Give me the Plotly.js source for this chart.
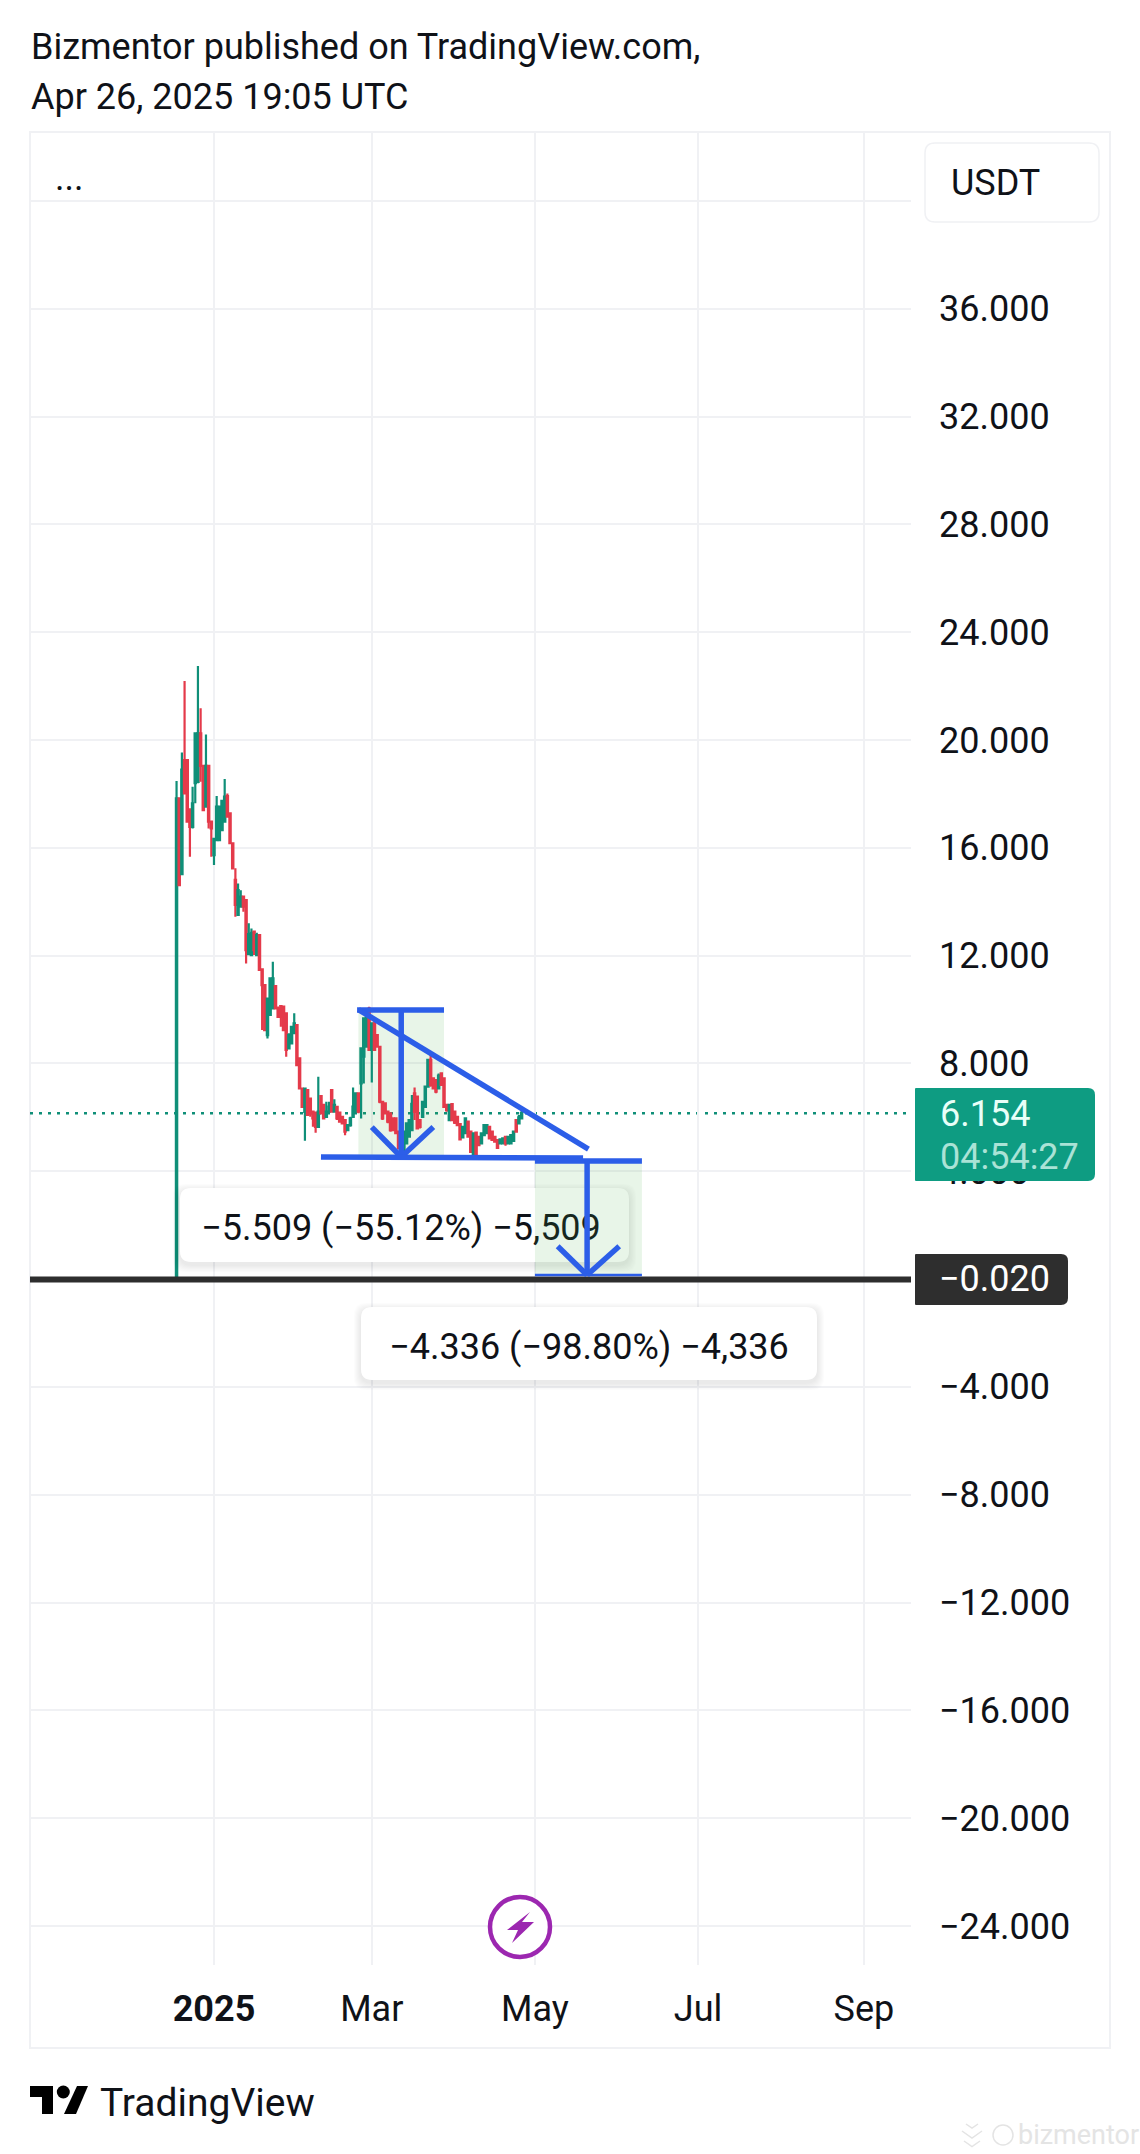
<!DOCTYPE html>
<html><head><meta charset="utf-8">
<script src="https://cdn.plot.ly/plotly-3.0.1.min.js"></script>
<style>html,body{margin:0;padding:0;background:#fff}#c{width:1140px;height:2154px}</style>
</head><body><div id="c"></div>
<script>
const dates = [
"2024-12-18","2024-12-19","2024-12-20","2024-12-21","2024-12-22","2024-12-23","2024-12-24","2024-12-25","2024-12-26","2024-12-27",
"2024-12-28","2024-12-29","2024-12-30","2024-12-31","2025-01-01","2025-01-02","2025-01-03","2025-01-04","2025-01-05","2025-01-06",
"2025-01-07","2025-01-08","2025-01-09","2025-01-10","2025-01-11","2025-01-12","2025-01-13","2025-01-14","2025-01-15","2025-01-16",
"2025-01-17","2025-01-18","2025-01-19","2025-01-20","2025-01-21","2025-01-22","2025-01-23","2025-01-24","2025-01-25","2025-01-26",
"2025-01-27","2025-01-28","2025-01-29","2025-01-30","2025-01-31","2025-02-01","2025-02-02","2025-02-03","2025-02-04","2025-02-05",
"2025-02-06","2025-02-07","2025-02-08","2025-02-09","2025-02-10","2025-02-11","2025-02-12","2025-02-13","2025-02-14","2025-02-15",
"2025-02-16","2025-02-17","2025-02-18","2025-02-19","2025-02-20","2025-02-21","2025-02-22","2025-02-23","2025-02-24","2025-02-25",
"2025-02-26","2025-02-27","2025-02-28","2025-03-01","2025-03-02","2025-03-03","2025-03-04","2025-03-05","2025-03-06","2025-03-07",
"2025-03-08","2025-03-09","2025-03-10","2025-03-11","2025-03-12","2025-03-13","2025-03-14","2025-03-15","2025-03-16","2025-03-17",
"2025-03-18","2025-03-19","2025-03-20","2025-03-21","2025-03-22","2025-03-23","2025-03-24","2025-03-25","2025-03-26","2025-03-27",
"2025-03-28","2025-03-29","2025-03-30","2025-03-31","2025-04-01","2025-04-02","2025-04-03","2025-04-04","2025-04-05","2025-04-06",
"2025-04-07","2025-04-08","2025-04-09","2025-04-10","2025-04-11","2025-04-12","2025-04-13","2025-04-14","2025-04-15","2025-04-16",
"2025-04-17","2025-04-18","2025-04-19","2025-04-20","2025-04-21","2025-04-22","2025-04-23","2025-04-24","2025-04-25","2025-04-26"];
const open = [
0.00,17.84,15.02,19.26,19.26,17.43,16.78,18.40,18.45,20.25,
19.04,17.53,19.04,16.97,15.73,16.29,16.29,16.66,16.97,17.92,
17.28,16.17,14.81,13.51,13.82,14.19,14.06,12.06,12.02,12.89,
12.02,12.76,11.49,10.91,9.05,9.80,10.04,10.87,10.04,10.13,
10.11,9.86,8.56,8.74,9.12,9.42,8.19,7.07,6.20,7.01,
6.70,6.21,6.18,5.65,6.79,6.46,6.02,6.21,7.01,6.21,
6.39,6.18,6.02,5.90,5.53,5.71,6.02,6.21,6.89,7.26,
8.25,8.62,10.04,8.50,9.49,9.05,8.62,6.58,6.52,6.21,
6.15,5.96,5.96,5.47,4.54,4.79,5.03,5.28,5.53,6.89,
6.77,5.90,6.02,6.39,7.14,8.13,7.45,7.38,7.07,7.63,
7.45,6.46,5.90,6.49,6.21,6.02,5.75,5.26,5.41,5.84,
5.47,4.60,5.43,5.28,5.03,5.34,5.41,5.65,5.47,5.28,
5.16,5.03,5.03,5.28,5.03,5.03,5.13,5.90,5.78,5.96];
const high = [
18.48,17.84,19.54,22.19,19.26,17.43,18.27,20.25,22.75,21.18,
19.04,20.21,19.04,16.97,16.33,17.92,17.53,17.74,18.55,18.02,
17.28,16.17,15.24,14.68,14.43,14.19,14.06,13.20,13.01,12.89,
12.85,12.76,11.49,10.91,10.41,11.16,11.77,10.87,10.11,10.13,
10.11,9.86,9.12,9.36,9.86,9.42,8.19,7.07,7.07,7.01,
6.70,6.21,6.18,7.51,6.79,6.46,6.58,6.58,7.01,6.67,
6.39,6.18,6.02,5.90,5.71,6.02,7.11,6.89,6.89,8.56,
9.67,9.99,10.10,9.49,9.60,9.05,8.62,6.58,6.52,6.21,
6.15,5.96,5.96,5.47,5.16,5.47,5.78,5.90,6.83,7.11,
6.77,5.90,6.58,7.14,8.13,8.44,7.45,7.38,7.63,7.63,
7.45,6.46,6.46,6.49,6.21,6.02,5.75,5.65,5.96,5.84,
5.47,5.41,5.43,5.28,5.41,5.71,5.71,5.65,5.47,5.28,
5.16,5.18,5.22,5.28,5.28,5.34,5.47,5.90,6.09,6.33];
const low = [
0.00,14.58,15.02,18.02,16.97,15.67,16.72,17.65,18.40,18.45,
17.40,17.53,16.72,15.67,15.36,16.29,16.29,16.66,16.97,17.16,
16.17,15.24,13.44,13.51,13.82,13.63,11.71,12.06,12.02,12.02,
12.02,11.47,9.24,9.24,8.93,9.80,10.04,10.04,9.73,9.36,
9.24,8.25,8.56,8.74,9.12,7.94,7.07,6.39,5.13,6.09,
6.02,5.65,5.43,5.65,6.15,5.96,6.02,6.21,6.21,6.21,
5.90,5.84,5.78,5.34,5.53,5.65,6.02,6.15,6.15,5.96,
7.26,8.62,8.50,7.29,8.50,8.62,6.52,5.90,6.15,5.78,
5.47,5.53,5.41,4.85,4.54,4.79,5.03,5.28,5.53,5.90,
5.59,5.59,6.02,6.39,7.14,7.14,7.07,6.89,7.07,7.20,
6.39,6.21,5.90,5.90,5.75,5.71,5.18,5.26,5.41,5.28,
4.72,4.60,4.60,4.97,5.03,5.34,5.41,5.22,5.16,5.10,
4.87,5.03,5.03,4.95,5.03,5.03,5.13,5.43,5.78,5.96];
const close = [
17.84,14.62,18.90,18.02,16.97,16.78,17.65,20.25,20.25,19.04,
17.40,19.04,16.97,16.72,16.33,17.53,17.53,17.74,17.90,17.16,
16.17,15.24,13.88,14.43,14.19,13.82,12.20,12.80,12.85,12.20,
12.76,11.47,10.91,9.24,10.41,11.16,11.16,10.04,9.73,9.73,
9.24,8.50,9.05,9.36,9.49,7.94,7.07,6.39,7.07,6.09,
6.15,5.96,5.65,6.21,6.15,5.96,6.21,6.40,6.21,6.46,
5.96,5.84,5.78,5.47,5.71,5.96,6.40,6.89,6.21,8.56,
9.67,9.90,8.50,9.49,8.50,8.62,6.58,5.96,6.15,5.84,
5.53,5.53,5.41,4.85,5.16,5.47,5.78,5.90,6.50,6.20,
5.59,5.65,6.58,7.14,8.13,7.20,7.07,6.95,7.55,7.20,
6.39,6.27,6.46,5.90,5.80,5.71,5.18,5.65,5.96,5.28,
4.72,5.41,4.60,4.97,5.41,5.71,5.71,5.22,5.16,5.10,
4.87,5.18,5.22,5.03,5.28,5.34,5.47,5.47,6.00,6.154];

const yTickVals = [40,36,32,28,24,20,16,12,8,4,0,-4,-8,-12,-16,-20,-24];
const yTickText = ["","36.000","32.000","28.000","24.000","20.000","16.000","12.000","8.000","4.000","","−4.000","−8.000","−12.000","−16.000","−20.000","−24.000"];
const xTickVals = ["2025-01-01","2025-03-01","2025-05-01","2025-07-01","2025-09-01"];
const xTickText = ["<b>2025</b>","Mar","May","Jul","Sep"];
const lastPrice = 6.154, crossPrice = -0.02;

// Drawings, in chart units: [date0, value0, date1, value1]
const zone1 = ["2025-02-24",9.98,"2025-03-28",4.53];
const zone2 = ["2025-05-01",4.38,"2025-06-10",0.15];
const heavyLines = [
 ["2025-02-23 12:00",9.98,"2025-03-28",9.98],
 ["2025-03-12",9.98,"2025-03-12",4.53],
 ["2025-03-01",5.64,"2025-03-12",4.53],
 ["2025-03-24",5.64,"2025-03-12",4.53],
 ["2025-02-24",10.0,"2025-05-21",4.82],
 ["2025-02-10",4.53,"2025-05-19",4.49],
 ["2025-05-01",4.38,"2025-06-10",4.38],
 ["2025-05-20 12:00",4.38,"2025-05-20 12:00",0.15],
 ["2025-05-09 12:00",1.22,"2025-05-20 12:00",0.15],
 ["2025-06-01 12:00",1.22,"2025-05-20 12:00",0.15]
];
const thinLines = [["2025-05-01",0.15,"2025-06-10",0.15]];

const L=30,T=132,W=881,H=1833;
const fx=p=>(p-L)/W, fy=p=>(T+H-p)/H;
const poly=pts=>'M '+pts.map(p=>fx(p[0])+' '+fy(p[1])).join(' L ')+' Z';
function rr(x0,y0,x1,y1,rl,rr_){ // rounded box, page pixels -> paper fractions
  const a=(x,y)=>fx(x)+' '+fy(y);
  const rr2=rr_===undefined?rl:rr_;
  return 'M '+a(x0+rl,y0)+' L '+a(x1-rr2,y0)+' Q '+a(x1,y0)+' '+a(x1,y0+rr2)+' L '+a(x1,y1-rr2)+' Q '+a(x1,y1)+' '+a(x1-rr2,y1)+' L '+a(x0+rl,y1)+' Q '+a(x0,y1)+' '+a(x0,y1-rl)+' L '+a(x0,y0+rl)+' Q '+a(x0,y0)+' '+a(x0+rl,y0)+' Z';
}
const pshape=(path,fill,line,extra)=>Object.assign({type:'path',xref:'paper',yref:'paper',path,fillcolor:fill,line:line||{width:0},layer:'above'},extra||{});
const GRID='#f0f1f4', BLUE='#2c5ee8', UP='#0f8f78', DOWN='#e43a4a', FONT='Roboto, sans-serif', INK='#0f1218';

function shadowBox(x0,y0,x1,y1,text,textShift){
  const out=[];
  for(const s of [7,6,5,4,3,2,1]) out.push(pshape(rr(x0-s,y0-s+3,x1+s,y1+s+3,12),'rgba(0,0,0,0.012)'));
  out.push(pshape(rr(x0,y0,x1,y1,11),'#ffffff'));
  // text sits on its own transparent box so it can be centred slightly off the white panel
  out.push(pshape(rr(x0+textShift,y0,x1+textShift,y1,11),'rgba(255,255,255,0)',{width:0},{label:{text,font:{family:FONT,size:36,color:INK},textposition:'middle center'}}));
  return out;
}

const shapes=[];
// frame
shapes.push({type:'rect',xref:'paper',yref:'paper',x0:fx(30),x1:fx(1110),y0:fy(132),y1:fy(2048),line:{color:GRID,width:2},fillcolor:'rgba(0,0,0,0)',layer:'below'});
// first zone behind the candles
shapes.push({type:'rect',xref:'x',yref:'y',x0:zone1[0],y0:zone1[1],x1:zone1[2],y1:zone1[3],fillcolor:'rgba(76,175,80,0.13)',line:{width:0},layer:'between'});
// level lines
shapes.push({type:'line',xref:'paper',yref:'y',x0:0,x1:1,y0:lastPrice,y1:lastPrice,line:{color:UP,width:2.5,dash:'3px,6px'},layer:'between'});
shapes.push(...shadowBox(180,1188,629,1262,'−5.509 (−55.12%) −5,509',-3.5));
shapes.push(...shadowBox(361,1307,817,1380,'−4.336 (−98.80%) −4,336',0));
shapes.push({type:'rect',xref:'x',yref:'y',x0:zone2[0],y0:zone2[1],x1:zone2[2],y1:zone2[3],fillcolor:'rgba(76,175,80,0.13)',line:{width:0},layer:'above'});
shapes.push({type:'line',xref:'paper',yref:'y',x0:0,x1:1,y0:crossPrice,y1:crossPrice,line:{color:'#2e2e2e',width:6},layer:'above'});
for(const d of heavyLines) shapes.push({type:'line',xref:'x',yref:'y',x0:d[0],y0:d[1],x1:d[2],y1:d[3],line:{color:BLUE,width:5.5},layer:'above'});
for(const d of thinLines) shapes.push({type:'line',xref:'x',yref:'y',x0:d[0],y0:d[1],x1:d[2],y1:d[3],line:{color:BLUE,width:2.5},layer:'above'});
// scale tags
shapes.push(pshape(rr(925,143,1099,222,10),'#ffffff',{color:GRID,width:1.5}));
shapes.push(pshape(rr(915,1088,1095,1181,1,7),'#0e9c82'));
shapes.push(pshape(rr(915,1254,1068,1305,1,7),'#2e2e2e'));
// lightning badge
shapes.push({type:'circle',xref:'paper',yref:'paper',x0:fx(490),x1:fx(550),y0:fy(1897),y1:fy(1957),fillcolor:'#ffffff',line:{color:'#9c27b0',width:4.5},layer:'above'});
shapes.push(pshape(poly([[530,1912],[507,1930],[518,1930],[512,1943],[534,1922],[522,1922]]),'#9c27b0'));
// TradingView mark
shapes.push(pshape(poly([[30,2086],[53,2086],[53,2114],[42,2114],[42,2097],[30,2097]]),'#000000'));
shapes.push({type:'circle',xref:'paper',yref:'paper',x0:fx(56.8),x1:fx(69.8),y0:fy(2085.5),y1:fy(2098.5),fillcolor:'#000000',line:{width:0},layer:'above'});
shapes.push(pshape(poly([[77,2086],[88,2086],[76,2114],[64,2114]]),'#000000'));
// watermark mark
for(const c of [[972,2124,6],[972,2131,10],[972,2141,8]]){
  const p=fx(c[0]-c[2])+' '+fy(c[1])+' L '+fx(c[0])+' '+fy(c[1]+c[2]*0.7)+' L '+fx(c[0]+c[2])+' '+fy(c[1]);
  shapes.push({type:'path',xref:'paper',yref:'paper',path:'M '+p,line:{color:'#e4e4e4',width:1.5},layer:'above'});
}
shapes.push({type:'circle',xref:'paper',yref:'paper',x0:fx(993),x1:fx(1013),y0:fy(2125),y1:fy(2145),fillcolor:'rgba(0,0,0,0)',line:{color:'#e4e4e4',width:1.5},layer:'above'});

const ann=(text,x,y,size,color,anchor,extra)=>Object.assign({xref:'paper',yref:'paper',x:fx(x),y:fy(y),text,showarrow:false,xanchor:anchor||'left',yanchor:'middle',align:'left',borderpad:0,font:{family:FONT,size,color}},extra||{});
const annotations=[
 ann('Bizmentor published on TradingView.com,',29.5,47,36,INK),
 ann('Apr 26, 2025 19:05 UTC',29.5,97,36,INK),
 ann('...',54,178,36,INK),
 ann('USDT',950,183,36,INK),
 ann('6.154',939,1114,36,'#e8fff8'),
 ann('04:54:27',939,1157,36,'rgba(232,255,248,0.72)'),
 ann('−0.020',938,1279,36,'#ffffff'),
 ann('TradingView',98.5,2103,39,INK),
 ann('bizmentor',1017,2135,27,'#e4e4e4')
];

const trace={type:'candlestick',x:dates,open,high,low,close,
 increasing:{line:{color:UP,width:2.2},fillcolor:UP},
 decreasing:{line:{color:DOWN,width:2.2},fillcolor:DOWN},
 whiskerwidth:0,hoverinfo:'skip',showlegend:false};

const layout={
 width:1140,height:2154,margin:{l:L,t:T,r:1140-L-W,b:2154-T-H,pad:0},
 paper_bgcolor:'#fff',plot_bgcolor:'#fff',showlegend:false,dragmode:false,
 font:{family:FONT,size:36,color:INK},
 xaxis:{type:'date',range:['2024-10-24 05:00','2025-09-18 14:24'],tickmode:'array',tickvals:xTickVals,ticktext:xTickText,
   showgrid:true,gridcolor:GRID,gridwidth:2,zeroline:false,showline:false,ticks:'',ticklabelstandoff:19,
   rangeslider:{visible:false},tickfont:{family:FONT,size:36,color:INK}},
 yaxis:{side:'right',range:[-25.45,42.56],tickmode:'array',tickvals:yTickVals,ticktext:yTickText,
   showgrid:true,gridcolor:GRID,gridwidth:2,zeroline:false,showline:false,ticks:'',ticklabelstandoff:27,
   tickfont:{family:FONT,size:36,color:INK}},
 shapes,annotations
};
Plotly.newPlot('c',[trace],layout,{staticPlot:true,displayModeBar:false,responsive:false});
</script></body></html>
